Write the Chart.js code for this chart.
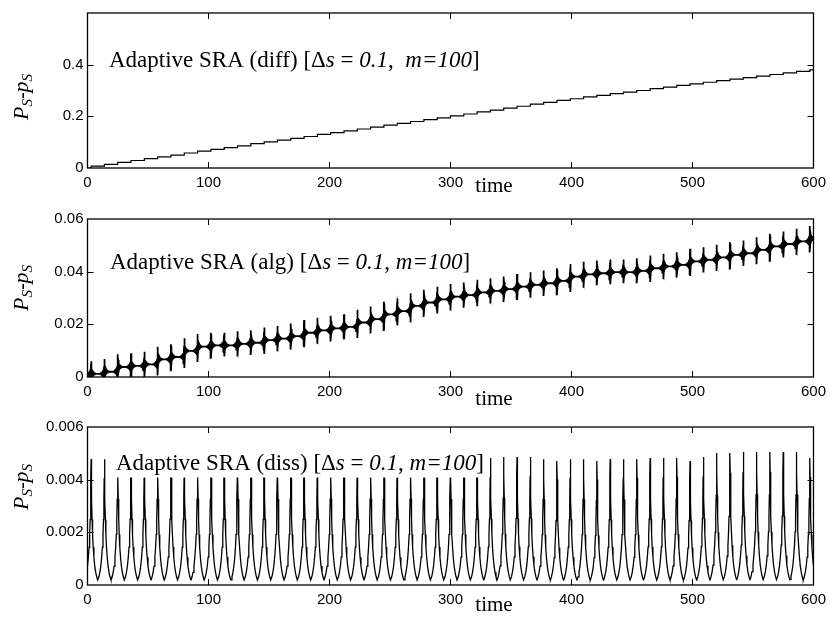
<!DOCTYPE html>
<html><head><meta charset="utf-8">
<script src="https://cdn.jsdelivr.net/npm/chart.js@4.4.1/dist/chart.umd.min.js"></script>
<style>
html,body{margin:0;padding:0;background:#fff;}
body{width:832px;height:623px;position:relative;overflow:hidden;}
canvas{position:absolute;left:0;}
</style></head><body>
<canvas id="c1" width="832" height="200" style="top:0px"></canvas>
<canvas id="c2" width="832" height="210" style="top:200px"></canvas>
<canvas id="c3" width="832" height="213" style="top:410px"></canvas>
<script>
// ---------------- data ----------------
// times of the adaptive events (steps / spikes / peaks)
const stepTimes = [3,14,25,36,47,58,69,80,91,102,113,124,135,146,157,168,179,190,201,212,
  223,234,245,256,267,278,289,300,311,322,333,344,355,366,377,388,399,410,421,432,
  443,454,465,476,487,498,509,520,531,542,553,564,575,586,597];

// panel 1 (diff): level held between consecutive steps (56 levels)
const diffLevels = [0.000,0.007,0.014,0.022,0.029,0.036,0.043,0.050,0.058,0.065,
  0.072,0.079,0.086,0.094,0.101,0.108,0.115,0.122,0.130,0.137,
  0.144,0.151,0.158,0.166,0.173,0.180,0.187,0.194,0.202,0.209,
  0.217,0.224,0.232,0.239,0.247,0.254,0.262,0.268,0.275,0.281,
  0.288,0.294,0.300,0.307,0.313,0.320,0.326,0.332,0.338,0.344,
  0.350,0.356,0.362,0.368,0.374,0.380];

// panel 2 (alg): base level between spikes (56 levels)
const algLevels = [0.0010,0.0012,0.0020,0.0038,0.0042,0.0048,0.0067,0.0076,0.0099,0.0115,
  0.0120,0.0120,0.0126,0.0130,0.0140,0.0146,0.0155,0.0168,0.0177,0.0185,
  0.0190,0.0207,0.0220,0.0238,0.0250,0.0270,0.0283,0.0295,0.0305,0.0311,
  0.0321,0.0327,0.0334,0.0343,0.0350,0.0356,0.0365,0.0381,0.0390,0.0394,
  0.0398,0.0398,0.0403,0.0413,0.0420,0.0426,0.0439,0.0445,0.0454,0.0464,
  0.0470,0.0483,0.0496,0.0505,0.0515,0.0525];
const algSpikeUp = [0.0048];
const algSpikeDown = [0.0042];
// shape of one spike envelope (time offset, fraction of spike size)
const spikeOffsets = [-4,-2.8,-1.8,-1.0,-0.5,-0.25,-0.08,0,0.08,0.25,0.5,1.0,1.8,2.8,4];
const spikeProfile = [0,0.06,0.14,0.25,0.38,0.55,0.85,1,0.85,0.55,0.38,0.25,0.14,0.06,0];

// panel 3 (diss): peak heights (55 peaks)
const dissPeaks = [0.00478,0.00478,0.0048,0.0048,0.0048,0.0048,0.0048,0.0048,0.0048,0.0048,
  0.0048,0.0048,0.0048,0.0048,0.0048,0.0048,0.0048,0.0048,0.0048,0.0048,
  0.0048,0.0048,0.0048,0.0048,0.0048,0.0048,0.0048,0.0048,0.0048,0.0048,
  0.00482,0.00486,0.00486,0.00486,0.00478,0.00471,0.00478,0.00478,0.00471,0.00478,
  0.00478,0.00478,0.00482,0.00482,0.00482,0.00471,0.00486,0.00501,0.00501,0.00505,
  0.00505,0.00505,0.00505,0.00505,0.00482];
// shape of one peak (time offset, fraction of peak height)
const peakOffsets = [-5.4,-4.6,-3.8,-3,-2.3,-1.7,-1.2,-0.8,-0.45,-0.2,0,0.2,0.45,0.8,1.2,1.7,2.3,3,3.8,4.6,5.4];
const peakProfile = [0.04,0.065,0.1,0.15,0.22,0.3,0.4,0.52,0.68,0.85,1,0.85,0.68,0.52,0.4,0.3,0.22,0.15,0.1,0.065,0.04];

// axes
const xTicks = [0,100,200,300,400,500,600];
const xTickLabels = ['0','100','200','300','400','500','600'];
const yTicks1 = [0,0.2,0.4];
const yTickLabels1 = ['0','0.2','0.4'];
const yTicks2 = [0,0.02,0.04,0.06];
const yTickLabels2 = ['0','0.02','0.04','0.06'];
const yTicks3 = [0,0.002,0.004,0.006];
const yTickLabels3 = ['0','0.002','0.004','0.006'];
const xTitle = 'time';
const annDiff = [['Adaptive SRA (diff) [\u0394',0],['s',1],[' = ',0],['0.1',1],[',  ',0],['m=100',1],[']',0]];
const annAlg  = [['Adaptive SRA (alg) [\u0394',0],['s',1],[' = ',0],['0.1',1],[', ',0],['m=100',1],[']',0]];
const annDiss = [['Adaptive SRA (diss) [\u0394',0],['s',1],[' = ',0],['0.1',1],[', ',0],['m=100',1],[']',0]];

// ---------------- build series ----------------
function diffSeries(){
  const pts=[{x:0,y:diffLevels[0]}];
  stepTimes.forEach((t,k)=>pts.push({x:t,y:diffLevels[k+1]}));
  pts.push({x:600,y:diffLevels[diffLevels.length-1]});
  return pts;
}
// closed outline: upper envelope forward, lower envelope backward
function algShape(){
  const up=[{x:-2,y:algLevels[0]}], lo=[{x:-2,y:algLevels[0]}];
  stepTimes.forEach((t,k)=>{
    const b=algLevels[k], a=algLevels[k+1];
    spikeOffsets.forEach((d,j)=>{
      const p=spikeProfile[j];
      if(d<0){up.push({x:t+d,y:b+algSpikeUp[0]*p});lo.push({x:t+d,y:b-algSpikeDown[0]*p});}
      else if(d>0){up.push({x:t+d,y:a+algSpikeUp[0]*p});lo.push({x:t+d,y:a-algSpikeDown[0]*p});}
      else {up.push({x:t,y:Math.max(a,b)+algSpikeUp[0]});lo.push({x:t,y:Math.min(a,b)-algSpikeDown[0]});}
    });
  });
  const last=algLevels[algLevels.length-1];
  up.push({x:605,y:last}); lo.push({x:605,y:last});
  return up.concat(lo.reverse());
}
function dissSeries(){
  const pts=[];
  stepTimes.forEach((t,k)=>{
    peakOffsets.forEach((d,j)=>pts.push({x:t+d,y:dissPeaks[k]*peakProfile[j]}));
  });
  return pts;
}

// ---------------- decoration plugin ----------------
const SERIF='"Liberation Serif","Times New Roman",serif';
const SANS='"Liberation Sans",Arial,Helvetica,sans-serif';
const deco={
  id:'deco',
  afterDatasetsDraw(chart,args,o){
    const ctx=chart.ctx, a=chart.chartArea, xs=chart.scales.x, ys=chart.scales.y;
    ctx.save();
    let w=0;
    o.ann.forEach(([s,it])=>{ctx.font=(it?'italic ':'')+'23px '+SERIF; w+=ctx.measureText(s).width;});
    if(o.box){ctx.fillStyle='#fff';ctx.fillRect(o.annX-2,o.annY-21,w+4,28.5);}
    ctx.fillStyle='#000';ctx.textAlign='left';ctx.textBaseline='alphabetic';
    let cx=o.annX;
    o.ann.forEach(([s,it])=>{ctx.font=(it?'italic ':'')+'23px '+SERIF;ctx.fillText(s,cx,o.annY);cx+=ctx.measureText(s).width;});
    ctx.strokeStyle='#000';ctx.lineWidth=1.3;
    ctx.strokeRect(a.left,a.top,a.right-a.left,a.bottom-a.top);
    ctx.lineWidth=1;ctx.beginPath();
    xTicks.slice(1,-1).forEach(v=>{const px=Math.round(xs.getPixelForValue(v))+0.5;
      ctx.moveTo(px,a.bottom);ctx.lineTo(px,a.bottom-6);ctx.moveTo(px,a.top);ctx.lineTo(px,a.top+6);});
    o.yt.slice(1).forEach(v=>{const py=Math.round(ys.getPixelForValue(v))+0.5;
      if(py<=a.top+1)return;
      ctx.moveTo(a.left,py);ctx.lineTo(a.left+6,py);ctx.moveTo(a.right,py);ctx.lineTo(a.right-6,py);});
    ctx.stroke();
    ctx.font='21px '+SERIF;ctx.textAlign='center';
    ctx.fillText(xTitle,o.timeX,o.timeY);
    ctx.translate(o.yTitleX,o.yTitleY);ctx.rotate(-Math.PI/2);
    const parts=[['P',22,0,1],['S',15,4,1],['-',20,0,0],['p',22,0,1],['S',15,4,1]];
    let tw=0;parts.forEach(([s,sz,dy,it])=>{ctx.font=(it?'italic ':'')+sz+'px '+SERIF;tw+=ctx.measureText(s).width;});
    let tx=-tw/2;ctx.textAlign='left';
    parts.forEach(([s,sz,dy,it])=>{ctx.font=(it?'italic ':'')+sz+'px '+SERIF;ctx.fillText(s,tx,dy);tx+=ctx.measureText(s).width;});
    ctx.restore();
  }
};

function makeChart(id,cfg){
  return new Chart(document.getElementById(id),{
    type:'line',
    data:{datasets:cfg.datasets},
    options:{
      responsive:false,animation:false,devicePixelRatio:1,
      layout:{padding:{left:0,right:15.5,top:cfg.top,bottom:0}},
      plugins:{legend:{display:false},tooltip:{enabled:false},deco:cfg.deco},
      elements:{point:{radius:0},line:{tension:0}},
      scales:{
        x:{type:'linear',min:0,max:600,
          grid:{display:false,drawTicks:false},border:{display:false},
          afterBuildTicks:s=>{s.ticks=xTicks.map(v=>({value:v}));},
          afterFit:s=>{s.height=cfg.xh;},
          ticks:{padding:6,color:'#000',autoSkip:false,maxRotation:0,font:{family:SANS,size:15},
            callback:(v,i)=>xTickLabels[i]}},
        y:{type:'linear',min:0,max:cfg.ymax,
          grid:{display:false,drawTicks:false},border:{display:false},
          afterBuildTicks:s=>{s.ticks=cfg.yt.map(v=>({value:v}));},
          afterFit:s=>{s.width=87.5;},
          ticks:{padding:4,color:'#000',autoSkip:false,font:{family:SANS,size:15},
            callback:(v,i)=>cfg.ytl[i]}}
      }
    },
    plugins:[deco]
  });
}

makeChart('c1',{top:9,xh:32,ymax:0.6,yt:yTicks1,ytl:yTickLabels1,
  datasets:[{data:diffSeries(),borderColor:'#000',borderWidth:1.2,stepped:'before',fill:false}],
  deco:{ann:annDiff,annX:109,annY:67,box:false,yt:yTicks1,timeX:494,timeY:192,yTitleX:28,yTitleY:97}});

makeChart('c2',{top:19,xh:33,ymax:0.06,yt:yTicks2,ytl:yTickLabels2,
  datasets:[{data:algShape(),borderColor:'#000',borderWidth:1.8,fill:'shape',backgroundColor:'#000'}],
  deco:{ann:annAlg,annX:110,annY:69,box:false,yt:yTicks2,timeX:494,timeY:205,yTitleX:28,yTitleY:88}});

makeChart('c3',{top:17,xh:38,ymax:0.006,yt:yTicks3,ytl:yTickLabels3,
  datasets:[{data:dissSeries(),borderColor:'#000',borderWidth:1.3,fill:false}],
  deco:{ann:annDiss,annX:116,annY:60,box:true,yt:yTicks3,timeX:494,timeY:201,yTitleX:28,yTitleY:77}});
</script>
</body></html>
